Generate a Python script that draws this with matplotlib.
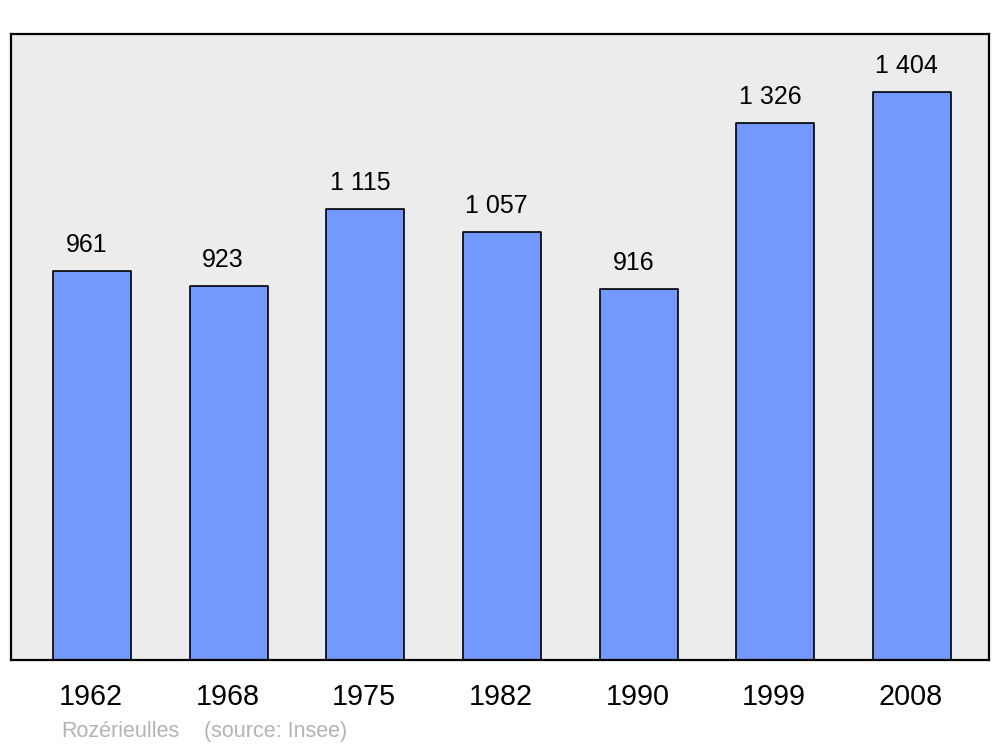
import matplotlib.pyplot as plt

# --- Data ---
years = ["1962", "1968", "1975", "1982", "1990", "1999", "2008"]
population = [961, 923, 1115, 1057, 916, 1326, 1404]
value_labels = ["961", "923", "1 115", "1 057", "916", "1 326", "1 404"]

plt.rcParams["font.family"] = ["Liberation Sans", "DejaVu Sans"]

fig = plt.figure(figsize=(10, 7.47), dpi=100)
ax = fig.add_axes([0.011, 0.1165, 0.978, 0.838])
ax.set_facecolor("#ececec")

x = list(range(len(years)))
ax.bar(x, population, width=0.57, color="#7399ff", edgecolor="black",
       linewidth=1.2, joinstyle="round", zorder=2)

ax.set_xlim(-0.593, 6.563)
ax.set_ylim(0, 1547)
ax.set_xticks([])
ax.set_yticks([])
for s in ax.spines.values():
    s.set_linewidth(1.6)
    s.set_joinstyle("round")

# value labels above bars
for xi, v, lab in zip(x, population, value_labels):
    ax.annotate(lab, xy=(xi - 0.04, v), xytext=(0, 13.8), textcoords="offset points",
                ha="center", va="baseline", fontsize=18)

# year labels below axis
for xi, yr in zip(x, years):
    ax.annotate(yr, xy=(xi - 0.01, 0), xycoords=("data", "axes fraction"),
                xytext=(0, -32.4), textcoords="offset points",
                ha="center", va="baseline", fontsize=20.7)

fig.text(0.061, 1 - 737 / 747, "Rozérieulles", color="#b3b3b3",
         fontsize=15.5, va="baseline", ha="left")
fig.text(0.204, 1 - 737 / 747, "(source: Insee)", color="#b3b3b3",
         fontsize=15.5, va="baseline", ha="left")

fig.savefig("out.png", dpi=100)
